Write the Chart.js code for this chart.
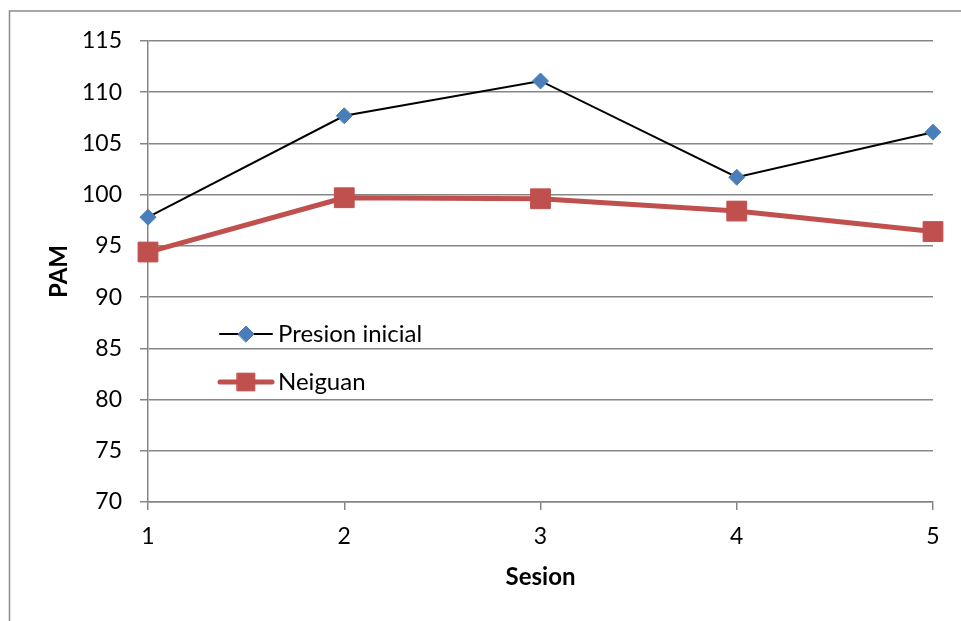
<!DOCTYPE html>
<html>
<head>
<meta charset="utf-8">
<script src="https://cdn.jsdelivr.net/npm/chart.js@4/dist/chart.umd.min.js"></script>
<style>
  html, body { margin: 0; padding: 0; background: #fff; }
  #chart { display: block; }
</style>
</head>
<body>
<canvas id="chart" width="961" height="621"></canvas>
<script>
const sessions = ['1', '2', '3', '4', '5'];
const presionInicial = [97.8, 107.7, 111.1, 101.7, 106.1];
const neiguan = [94.4, 99.7, 99.6, 98.4, 96.4];
const seriesNames = ['Presion inicial', 'Neiguan'];

const FONT = 'Lato, "Open Sans", sans-serif';
const GRID = '#868686';

// frame lines (top + left) like the pasted Excel chart
const framePlugin = {
  id: 'frame',
  beforeDraw(chart) {
    const ctx = chart.ctx;
    ctx.save();
    ctx.strokeStyle = '#8c8c8c';
    ctx.lineWidth = 1.5;
    ctx.beginPath();
    ctx.moveTo(9.5, chart.height);
    ctx.lineTo(9.5, 11);
    ctx.lineTo(chart.width, 11);
    ctx.stroke();
    ctx.restore();
  },
};

// legend sits inside the plot area, drawn from the dataset styles
const insideLegend = {
  id: 'insideLegend',
  afterDatasetsDraw(chart) {
    const ctx = chart.ctx;
    const { left, top } = chart.chartArea;
    chart.data.datasets.forEach((ds, i) => {
      const y = top + 293 + i * 48;
      const x0 = left + 72;
      ctx.save();
      ctx.strokeStyle = ds.borderColor;
      ctx.lineWidth = ds.borderWidth;
      ctx.lineCap = 'round';
      ctx.beginPath();
      ctx.moveTo(x0, y);
      ctx.lineTo(x0 + 52, y);
      ctx.stroke();
      ctx.fillStyle = ds.pointBackgroundColor;
      ctx.strokeStyle = ds.pointBorderColor;
      ctx.lineWidth = 1;
      Chart.helpers.drawPoint(ctx, {
        pointStyle: ds.pointStyle,
        radius: ds.pointRadius - (i === 1 ? 1.5 : 0),
        rotation: 0,
        borderWidth: 1,
      }, x0 + 26, y);
      ctx.fillStyle = '#000';
      ctx.font = '24px ' + FONT;
      ctx.textBaseline = 'middle';
      ctx.textAlign = 'left';
      ctx.fillText(ds.label, x0 + 58, y);
      ctx.restore();
    });
  },
};

new Chart(document.getElementById('chart'), {
  type: 'line',
  data: {
    labels: sessions,
    datasets: [
      {
        label: seriesNames[0],
        data: presionInicial,
        borderColor: '#000000',
        borderWidth: 2,
        pointStyle: 'rectRot',
        pointRadius: 8,
        pointBackgroundColor: '#4a7ebb',
        pointBorderColor: '#4a7ebb',
        pointBorderWidth: 1,
        tension: 0,
        clip: false,
      },
      {
        label: seriesNames[1],
        data: neiguan,
        borderColor: '#c0504d',
        borderWidth: 5,
        borderJoinStyle: 'round',
        pointStyle: 'rect',
        pointRadius: 14,
        pointBackgroundColor: '#c0504d',
        pointBorderColor: '#c0504d',
        pointBorderWidth: 1,
        tension: 0,
        clip: false,
      },
    ],
  },
  options: {
    responsive: false,
    animation: false,
    layout: { padding: { top: 41, right: 28, left: 0, bottom: 0 } },
    plugins: {
      legend: { display: false },
      tooltip: { enabled: false },
    },
    scales: {
      x: {
        offset: false,
        afterFit: (scale) => { scale.height = 119; },
        grid: {
          drawOnChartArea: false,
          drawTicks: true,
          tickLength: 8,
          color: GRID,
          lineWidth: 1.5,
        },
        border: { color: GRID, width: 1.5 },
        ticks: {
          color: '#000',
          font: { family: FONT, size: 23 },
          padding: 13,
          maxRotation: 0,
        },
        title: {
          display: true,
          text: 'Sesion',
          color: '#000',
          font: { family: FONT, size: 24, weight: 'bold' },
          padding: { top: 0, bottom: 29 },
        },
      },
      y: {
        min: 70,
        max: 115,
        afterFit: (scale) => { scale.width = 148; },
        grid: {
          color: GRID,
          lineWidth: 1.5,
          tickLength: 8,
        },
        border: { color: GRID, width: 1.5 },
        ticks: {
          stepSize: 5,
          color: '#000',
          font: { family: FONT, size: 23 },
          padding: 18,
        },
        title: {
          display: true,
          text: 'PAM',
          color: '#000',
          font: { family: FONT, size: 24, weight: 'bold' },
          padding: { top: 45, bottom: 0 },
        },
      },
    },
  },
  plugins: [framePlugin, insideLegend],
});
</script>
</body>
</html>
